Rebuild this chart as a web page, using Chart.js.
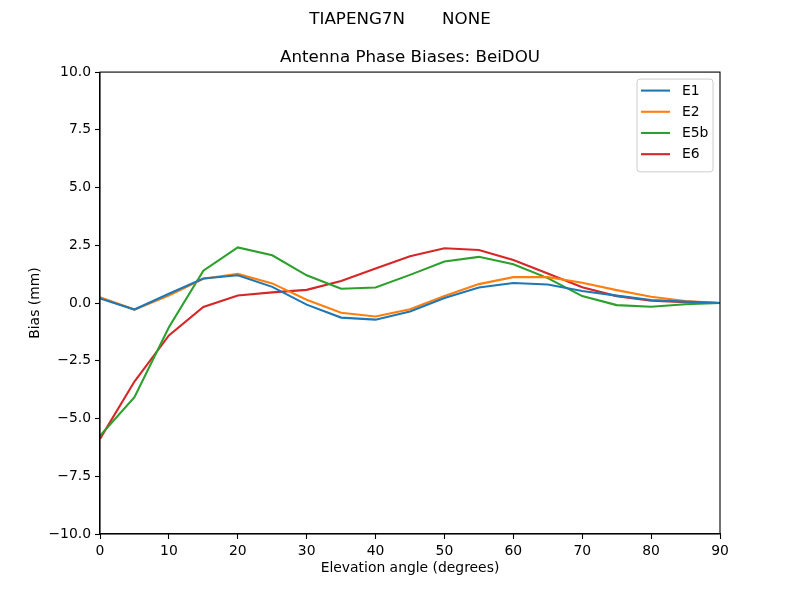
<!DOCTYPE html>
<html>
<head>
<meta charset="utf-8">
<script src="https://cdn.jsdelivr.net/npm/chart.js@4/dist/chart.umd.min.js"></script>
<style>
  html, body { margin: 0; padding: 0; background: #fff; }
  #wrap { width: 800px; height: 600px; }
</style>
</head>
<body>
<div id="wrap"><canvas id="c" width="800" height="600"></canvas></div>
<script>
const elevations = [0, 5, 10, 15, 20, 25, 30, 35, 40, 45, 50, 55, 60, 65, 70, 75, 80, 85, 90];
const seriesNames = ["E1", "E2", "E5b", "E6"];
const e1  = [0.20, -0.28, 0.40, 1.06, 1.20, 0.70, -0.07, -0.63, -0.72, -0.37, 0.22, 0.67, 0.87, 0.80, 0.52, 0.32, 0.13, 0.06, 0.0];
const e2  = [0.25, -0.28, 0.32, 1.05, 1.26, 0.85, 0.14, -0.42, -0.58, -0.27, 0.30, 0.82, 1.12, 1.12, 0.88, 0.56, 0.27, 0.09, 0.0];
const e5b = [-5.75, -4.08, -1.05, 1.40, 2.41, 2.07, 1.20, 0.62, 0.67, 1.22, 1.80, 2.00, 1.68, 1.08, 0.30, -0.09, -0.16, -0.05, 0.0];
const e6  = [-5.88, -3.40, -1.40, -0.17, 0.33, 0.46, 0.57, 0.95, 1.50, 2.03, 2.37, 2.30, 1.86, 1.28, 0.68, 0.30, 0.10, 0.04, 0.0];
const seriesValues = [e1, e2, e5b, e6];
const seriesColors = ["#1f77b4", "#ff7f0e", "#2ca02c", "#d62728"];
const xTicks = [0, 10, 20, 30, 40, 50, 60, 70, 80, 90];
const yTicks = [-10, -7.5, -5, -2.5, 0, 2.5, 5, 7.5, 10];
const suptitle = "TIAPENG7N       NONE";
const title = "Antenna Phase Biases: BeiDOU";
const xLabel = "Elevation angle (degrees)";
const yLabel = "Bias (mm)";

const FONT = "'DejaVu Sans', sans-serif";

const framePlugin = {
  id: 'frame',
  afterDraw(chart) {
    const {ctx, chartArea: a} = chart;
    ctx.save();
    ctx.strokeStyle = '#000';
    ctx.lineWidth = 1.1;
    ctx.strokeRect(a.left, a.top, a.right - a.left, a.bottom - a.top);
    ctx.restore();
  }
};

const legendPlugin = {
  id: 'mplLegend',
  afterDraw(chart) {
    const {ctx, chartArea: a} = chart;
    const ds = chart.data.datasets;
    const boxW = 76, rowH = 21.2;
    const boxH = 8 + rowH * ds.length;
    const x0 = a.right - 7 - boxW, y0 = a.top + 7;
    ctx.save();
    ctx.beginPath();
    const r = 3;
    ctx.moveTo(x0 + r, y0);
    ctx.arcTo(x0 + boxW, y0, x0 + boxW, y0 + boxH, r);
    ctx.arcTo(x0 + boxW, y0 + boxH, x0, y0 + boxH, r);
    ctx.arcTo(x0, y0 + boxH, x0, y0, r);
    ctx.arcTo(x0, y0, x0 + boxW, y0, r);
    ctx.closePath();
    ctx.fillStyle = 'rgba(255,255,255,0.8)';
    ctx.fill();
    ctx.strokeStyle = '#cccccc';
    ctx.lineWidth = 1;
    ctx.stroke();
    ctx.font = "13.9px " + FONT;
    ctx.textBaseline = 'middle';
    ctx.textAlign = 'left';
    ds.forEach((d, i) => {
      const y = y0 + 11.5 + i * rowH;
      ctx.strokeStyle = d.borderColor;
      ctx.lineWidth = 2.1;
      ctx.beginPath();
      ctx.moveTo(x0 + 4, y);
      ctx.lineTo(x0 + 33, y);
      ctx.stroke();
      ctx.fillStyle = '#000';
      ctx.fillText(d.label, x0 + 45, y + 0.5);
    });
    ctx.restore();
  }
};

const datasets = seriesNames.map((name, i) => ({
  label: name,
  data: elevations.map((x, j) => ({x: x, y: seriesValues[i][j]})),
  borderColor: seriesColors[i],
  backgroundColor: seriesColors[i],
  borderWidth: 2.1,
  pointRadius: 0,
  tension: 0,
  fill: false,
  yAxisID: 'y'
}));

const fmt = v => {
  const s = Number(v).toFixed(1);
  return s.replace('-', '\u2212');
};

new Chart(document.getElementById('c'), {
  type: 'line',
  data: { datasets },
  options: {
    responsive: false,
    animation: false,
    devicePixelRatio: 1,
    layout: { padding: 0 },
    plugins: {
      legend: { display: false },
      tooltip: { enabled: false },
      title: {
        display: true, text: suptitle, color: '#000', fullSize: true,
        font: { family: FONT, size: 16.7, weight: 'normal' },
        padding: { top: 10, bottom: 0 }
      },
      subtitle: {
        display: true, text: title, color: '#000', fullSize: false,
        font: { family: FONT, size: 16.7, weight: 'normal' },
        padding: { top: 18, bottom: 4 }
      }
    },
    scales: {
      x: {
        type: 'linear', min: 0, max: 90,
        afterFit(s) { s.height = 66; },
        afterBuildTicks(s) { s.ticks = xTicks.map(v => ({value: v})); },
        ticks: { color: '#000', font: { family: FONT, size: 13.9 }, padding: 4, maxRotation: 0,
                 callback: v => String(v) },
        grid: { display: true, drawOnChartArea: false, drawTicks: true, tickLength: 5, color: '#000', tickWidth: 1.1 },
        border: { display: true, color: '#000', width: 1.1 },
        title: { display: true, text: xLabel, color: '#000', font: { family: FONT, size: 13.9 }, padding: { top: 0, bottom: 23 } }
      },
      y: {
        type: 'linear', min: -10, max: 10,
        afterFit(s) { s.width = 100; },
        afterBuildTicks(s) { s.ticks = yTicks.map(v => ({value: v})); },
        ticks: { color: '#000', font: { family: FONT, size: 13.9 }, padding: 4, callback: v => fmt(v) },
        grid: { display: true, drawOnChartArea: false, drawTicks: true, tickLength: 5, color: '#000', tickWidth: 1.1 },
        border: { display: true, color: '#000', width: 1.1 },
        title: { display: true, text: yLabel, color: '#000', font: { family: FONT, size: 13.9 }, padding: { top: 27, bottom: 0 } }
      },
      yRight: {
        type: 'linear', position: 'right', min: -10, max: 10,
        afterFit(s) { s.width = 80; },
        ticks: { display: false },
        grid: { display: false, drawTicks: false },
        border: { display: false },
        title: { display: false }
      }
    }
  },
  plugins: [framePlugin, legendPlugin]
});
</script>
</body>
</html>
